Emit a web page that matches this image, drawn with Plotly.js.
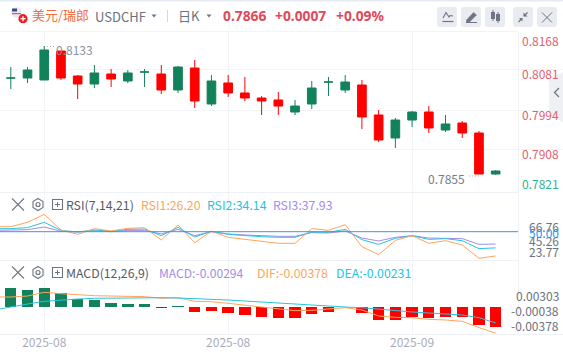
<!DOCTYPE html>
<html><head><meta charset="utf-8">
<script src="https://cdn.plot.ly/plotly-3.0.1.min.js"></script>
<style>html,body{margin:0;padding:0;background:#fff;overflow:hidden}#c{width:563px;height:356px}</style>
</head><body><div id="c"></div>
<script>
var opens =[0.80635,0.80635,0.80592,0.81221,0.80679,0.80505,0.80722,0.80570,0.80766,0.80722,0.80375,0.80852,0.80071,0.80527,0.80310,0.80201,0.80158,0.79897,0.80071,0.80548,0.80375,0.80483,0.79832,0.79333,0.79723,0.79897,0.79506,0.79658,0.79441,0.78551];
var closes=[0.80635,0.80809,0.81243,0.80635,0.80505,0.80744,0.80614,0.80744,0.80766,0.80375,0.80874,0.80136,0.80570,0.80310,0.80201,0.80136,0.80027,0.80027,0.80418,0.80548,0.80548,0.79789,0.79289,0.79723,0.79897,0.79550,0.79637,0.79441,0.78551,0.78616];
var highs =[0.80874,0.80874,0.81330,0.81221,0.80700,0.80918,0.80831,0.80809,0.80831,0.80918,0.80896,0.81026,0.80700,0.80700,0.80657,0.80244,0.80331,0.80158,0.80570,0.80657,0.80700,0.80592,0.79941,0.79767,0.79919,0.80027,0.79832,0.79702,0.79485,0.78638];
var lows  =[0.80396,0.80527,0.80592,0.80592,0.80179,0.80418,0.80440,0.80527,0.80440,0.80288,0.80310,0.79984,0.80027,0.80223,0.80136,0.79832,0.79832,0.79832,0.79962,0.80244,0.80310,0.79528,0.79246,0.79116,0.79571,0.79441,0.79463,0.79333,0.78551,0.78529];

var rsi1=[54.9,54.9,59.2,67.0,51.7,47.4,53.0,50.7,53.3,53.9,41.9,56.6,39.3,50.4,44.5,42.5,40.9,38.6,38.6,53.0,51.3,56.9,35.3,27.5,41.5,46.1,38.6,41.2,37.0,23.9,26.20];
var rsi2=[53.0,53.0,54.0,59.2,51.3,49.7,51.7,50.4,52.3,52.6,46.1,54.3,44.8,50.4,47.4,46.1,45.1,44.5,44.5,49.7,49.4,52.3,42.2,37.6,43.5,46.1,42.5,43.2,41.2,33.4,34.14];
var rsi3=[51.3,51.3,52.0,54.6,50.4,49.7,51.0,50.0,51.3,51.3,47.8,52.3,46.1,50.0,47.8,46.8,46.1,45.5,45.5,49.1,48.7,50.7,43.8,40.9,44.5,46.1,43.8,43.8,43.2,37.6,37.93];

var macdBars=[0.00279,0.0025,0.00279,0.00201,0.00113,0.00103,0.00059,0.00044,0.00044,-0.00015,0.0001,-0.00074,-0.00059,-0.00088,-0.00118,-0.00147,-0.00162,-0.00162,-0.00103,-0.00074,-0.00002,-0.00088,-0.00191,-0.00191,-0.00147,-0.00162,-0.00147,-0.00147,-0.00265,-0.00294];
var dif=[0.00145,0.00145,0.00159,0.00213,0.00193,0.00174,0.00164,0.00159,0.00155,0.0015,0.00126,0.00135,0.00082,0.00077,0.00053,0.00029,0.00005,-0.00024,-0.00053,-0.00048,-0.00029,-0.0001,-0.00043,-0.0013,-0.0015,-0.00155,-0.00179,-0.00188,-0.00208,-0.00299,-0.00378];
var dea=[-0.00043,0.00005,0.00043,0.00082,0.00101,0.00116,0.00126,0.0013,0.00135,0.00135,0.00135,0.0013,0.00121,0.00116,0.00101,0.00087,0.00072,0.00053,0.00034,0.00019,0.0001,0,-0.0001,-0.00034,-0.00053,-0.00072,-0.00087,-0.00101,-0.00116,-0.00155,-0.00231];

var priceTicks=[0.8081,0.7994,0.7908];
var priceLabels=['0.8168','0.8081','0.7994','0.7908','0.7821'];
var rsiLabels=['66.76','50.00','45.26','23.77'];
var macdLabels=['0.00303','-0.00038','-0.00378'];
var dateTickIdx=[2,13,24];
var dateLabels=['2025-08','2025-08','2025-09'];

var W=563,H=356;
function px(x){return x/W;}
function py(y){return 1-y/H;}
var idx=opens.map(function(_,i){return i;});
var lineIdx=[-1].concat(idx);

var X0=10.8,DX=16.72;
var xrange=[-X0/DX,(W-X0)/DX];
function pRange(top,bot){var f=function(y){return 0.8133-(y-46)/4606;};return [f(bot),f(top)];}

var up='#12825a',down='#ff0000';
var traces=[
 {type:'candlestick',x:idx,open:opens,high:highs,low:lows,close:closes,xaxis:'x',yaxis:'y',
  increasing:{line:{color:up,width:1},fillcolor:up},
  decreasing:{line:{color:down,width:1},fillcolor:down},whiskerwidth:0,hoverinfo:'skip'},
 {type:'scatter',mode:'lines',x:lineIdx,y:rsi3,xaxis:'x2',yaxis:'y2',line:{color:'#a78be8',width:1},hoverinfo:'skip'},
 {type:'scatter',mode:'lines',x:lineIdx,y:rsi2,xaxis:'x2',yaxis:'y2',line:{color:'#27c4e0',width:1},hoverinfo:'skip'},
 {type:'scatter',mode:'lines',x:lineIdx,y:rsi1,xaxis:'x2',yaxis:'y2',line:{color:'#ffa45c',width:1},hoverinfo:'skip'},
 {type:'bar',x:idx,y:macdBars,width:0.68,xaxis:'x3',yaxis:'y3',
  marker:{color:macdBars.map(function(v){return v>=0?up:down;}),line:{width:0}},hoverinfo:'skip'},
 {type:'scatter',mode:'lines',x:lineIdx,y:dif,xaxis:'x3',yaxis:'y3',line:{color:'#ffa45c',width:1},hoverinfo:'skip'},
 {type:'scatter',mode:'lines',x:lineIdx,y:dea,xaxis:'x3',yaxis:'y3',line:{color:'#27c4e0',width:1},hoverinfo:'skip'}
];

var FONT='"Noto Sans CJK SC","Noto Sans",sans-serif';
var LAT='"Noto Sans",sans-serif';
function note(text,x,y,size,color,anchor,extra){
 var a={text:text,xref:'paper',yref:'paper',x:px(x),y:py(y),showarrow:false,xanchor:anchor||'left',yanchor:'middle',
  font:{size:size,color:color,family:FONT},borderpad:0,borderwidth:0};
 if(extra){for(var k in extra)a[k]=extra[k];}
 return a;
}
var red='#e0495a',gray='#6b7280',lblRed='#e2606f',lblGreen='#2cb398',axisLbl='#a9adbb';
var bold={color:red,size:13.8,family:LAT,weight:700};
var annotations=[
 note('美元/瑞郎',32,14.5,13,'#f46b3b'),
 note('USDCHF',95,16,13,gray),
 note('日K',178,15,13,gray),
 note('0.7866',222.5,15,13.8,red,'left',{font:bold}),
 note('+0.0007',275,15,13.8,red,'left',{font:bold}),
 note('+0.09%',336,15,13.8,red,'left',{font:bold}),
 note('0.8133',56,49.5,12,'#8b8f9e'),
 note('0.7855',428,178.5,12,'#757a89'),
 note(priceLabels[0],559,40,12,lblRed,'right'),
 note(priceLabels[1],559,73,12,lblRed,'right'),
 note(priceLabels[2],559,114,12,lblRed,'right'),
 note(priceLabels[3],559,153,12,lblRed,'right'),
 note(priceLabels[4],559,183.5,12,lblGreen,'right'),
 note('RSI(7,14,21)',66,204.5,12.3,'#555b68'),
 note('RSI1:26.20',140.5,204.5,12.3,'#ffa45c'),
 note('RSI2:34.14',207,204.5,12.3,'#27c4e0'),
 note('RSI3:37.93',273,204.5,12.3,'#a78be8'),
 note(rsiLabels[0],559,226,12,'#6b7280','right'),
 note(rsiLabels[2],559,240,12,'#6b7280','right'),
 note(rsiLabels[1],559,232.5,12,'#2b95e9','right'),
 note(rsiLabels[3],559,252,12,'#6b7280','right'),
 note('MACD(12,26,9)',66,272.5,12.3,'#555b68'),
 note('MACD:-0.00294',159,272.5,12.1,'#a78be8'),
 note('DIF:-0.00378',257,272.5,12.3,'#ffa45c'),
 note('DEA:-0.00231',336,272.5,12.3,'#27c4e0'),
 note(macdLabels[0],559,295,12,'#6b7280','right'),
 note(macdLabels[1],559,310,12,'#6b7280','right'),
 note(macdLabels[2],559,325,12,'#6b7280','right')
];

function rectPath(x0,y0,x1,y1,r){
 return 'M'+px(x0+r)+','+py(y0)+' L'+px(x1-r)+','+py(y0)+' Q'+px(x1)+','+py(y0)+' '+px(x1)+','+py(y0+r)+
 ' L'+px(x1)+','+py(y1-r)+' Q'+px(x1)+','+py(y1)+' '+px(x1-r)+','+py(y1)+
 ' L'+px(x0+r)+','+py(y1)+' Q'+px(x0)+','+py(y1)+' '+px(x0)+','+py(y1-r)+
 ' L'+px(x0)+','+py(y0+r)+' Q'+px(x0)+','+py(y0)+' '+px(x0+r)+','+py(y0)+' Z';
}
function ln(x0,y0,x1,y1,c,w,dash){return {type:'line',xref:'paper',yref:'paper',x0:px(x0),y0:py(y0),x1:px(x1),y1:py(y1),line:{color:c,width:w||1,dash:dash||'solid'},layer:'above'};}
function box(x0,y0,x1,y1,f,c,w){return {type:'rect',xref:'paper',yref:'paper',x0:px(x0),y0:py(y0),x1:px(x1),y1:py(y1),fillcolor:f,line:{color:c||f,width:w==null?0:w},layer:'above'};}
function path(d,f,c,w){return {type:'path',xref:'paper',yref:'paper',path:d,fillcolor:f||'rgba(0,0,0,0)',line:{color:c||'rgba(0,0,0,0)',width:w==null?1:w},layer:'above'};}
function poly(pts,close){return pts.map(function(p,i){return (i?'L':'M')+px(p[0])+','+py(p[1]);}).join(' ')+(close?' Z':'');}
function circ(cx,cy,r,f,c,w){return {type:'circle',xref:'paper',yref:'paper',x0:px(cx-r),x1:px(cx+r),y0:py(cy-r),y1:py(cy+r),fillcolor:f||'rgba(0,0,0,0)',line:{color:c||'rgba(0,0,0,0)',width:w==null?1:w},layer:'above'};}
var ic='#6f7482',bg='#e9ebf1',dotc='#b4b7c2';
var shapes=[
 box(0,0,563,1.5,'#e6eaf2'),
 // flag + plus badge
 circ(16.5,12.5,4.8,'#e8e8ee','#d8dbe3',0.5),
 box(12,8.5,17,11.5,'#3d4a86'),
 box(12,13,21,14.2,'#e05a5a'),
 circ(23,18.7,4.6,'#ee1c25'),
 ln(20.5,18.7,25.5,18.7,'#fff',1.3),ln(23,16.2,23,21.2,'#fff',1.3),
 // header selects
 path(poly([[151.5,14.5],[156.5,14.5],[154,17.5]],true),ic,ic,0),
 ln(167.5,10,167.5,22,'#d5d8e0',1),
 path(poly([[206.5,14.5],[211.5,14.5],[209,17.5]],true),ic,ic,0),
 // header buttons
 path(rectPath(437,7,457,27,3),bg),path(rectPath(461,7,481,27,3),bg),path(rectPath(485,7,505,27,3),bg),
 path(rectPath(513,7,533,27,3),bg),path(rectPath(537,7,557,27,3),bg),
 path(poly([[443,18],[446,12.5],[449,17],[450,15.5],[453,16]]),null,ic,1.1),ln(442.5,21.5,453.5,21.5,ic,1.2),
 path(poly([[466.5,20],[473.5,12.5],[476.5,15],[469.5,22],[466.5,22]],true),ic,ic,0.5),ln(466,22.5,477,22.5,ic,1),
 box(491,12,495,19,ic),ln(493,10,493,21,ic,1),box(496,14,500,21,ic),ln(498,12,498,23,ic,1),
 ln(518.5,22,522,18.5,ic,1.2),path(poly([[519,18],[522.5,18],[522.5,21.5]],true),ic,ic,0),
 ln(527.5,12.5,524,16,ic,1.2),path(poly([[523.5,12.5],[523.5,16.5],[527.5,16.5]],true),ic,ic,0),
 ln(542,12.5,552,22.5,ic,1),ln(552,12.5,542,22.5,ic,1),
 // collapse tab on the right edge
 path(poly([[549,79],[563,72],[563,123],[549,113]],true),'#eff0f4','#eff0f4',0),
 path(poly([[559,88],[554.5,92.5],[559,97]]),null,ic,1.3),
 // marker dots to extrema labels
 ln(47,46.5,55,46.5,dotc,1,'1px,2px'),
 ln(469,176,479,176,dotc,1,'1px,2px'),
 // frame lines
 ln(518.5,31.5,518.5,334,'#f1f2f6',1),
 ln(0,31.5,518,31.5,'#f3f4f8',1),
 ln(0,192.5,518,192.5,'#eef0f5',1),ln(0,260.5,518,260.5,'#eef0f5',1),ln(0,334.5,563,334.5,'#eef0f5',1),
 // rsi 50 line
 {type:'line',xref:'paper',yref:'y2',x0:0,x1:px(518),y0:50,y1:50,line:{color:'#3f94de',width:1},layer:'above'},
 // panel tools
 ln(12,198.5,24,210.5,ic,1.1),ln(24,198.5,12,210.5,ic,1.1),
 ln(12,266.5,24,278.5,ic,1.1),ln(24,266.5,12,278.5,ic,1.1),
 circ(38,204.5,2,null,ic,1.2),circ(38,272.5,2,null,ic,1.2),
 path(poly([[38,198.5],[43,201.5],[43,207.5],[38,210.5],[33,207.5],[33,201.5]],true),null,ic,1.1),
 path(poly([[38,266.5],[43,269.5],[43,275.5],[38,278.5],[33,275.5],[33,269.5]],true),null,ic,1.1),
 box(52.5,199.5,62.5,209.5,'rgba(0,0,0,0)',ic,1.1),ln(55,204.5,60,204.5,ic,1),ln(57.5,202,57.5,207,ic,1),
 box(52.5,267.5,62.5,277.5,'rgba(0,0,0,0)',ic,1.1),ln(55,272.5,60,272.5,ic,1),ln(57.5,270,57.5,275,ic,1)
];

function ax(domainAnchor,extra){
 var a={range:xrange,showgrid:true,gridcolor:'#f3f4f8',gridwidth:1,zeroline:false,showline:false,
  tickmode:'array',tickvals:dateTickIdx,ticktext:dateLabels,showticklabels:false,ticks:'',fixedrange:true,
  rangeslider:{visible:false},anchor:domainAnchor};
 if(extra){for(var k in extra)a[k]=extra[k];}
 return a;
}
var layout={
 width:W,height:H,margin:{l:0,r:0,t:0,b:0},paper_bgcolor:'#fff',plot_bgcolor:'#fff',showlegend:false,
 boxgap:0.26,bargap:0,dragmode:false,hovermode:false,
 font:{family:FONT},
 xaxis:ax('y'),
 xaxis2:ax('y2'),
 xaxis3:ax('y3',{showticklabels:true,tickfont:{size:12,color:axisLbl,family:FONT},ticklen:0}),
 yaxis:{domain:[py(191),py(31.5)],range:pRange(31.5,191),tickmode:'array',tickvals:priceTicks,showticklabels:false,gridcolor:'#f3f4f8',zeroline:false,showline:false,fixedrange:true,anchor:'x'},
 yaxis2:{domain:[py(261),py(192)],range:[50-(261-231.7)/1.02,50+(231.7-192)/1.02],showticklabels:false,showgrid:false,zeroline:false,fixedrange:true,anchor:'x2'},
 yaxis3:{domain:[py(334),py(261)],range:[-(334-307)/6900,(307-261)/6900],showticklabels:false,showgrid:false,zeroline:false,fixedrange:true,anchor:'x3'},
 annotations:annotations,shapes:shapes
};
Plotly.newPlot('c',traces,layout,{displayModeBar:false,staticPlot:true});
</script></body></html>
